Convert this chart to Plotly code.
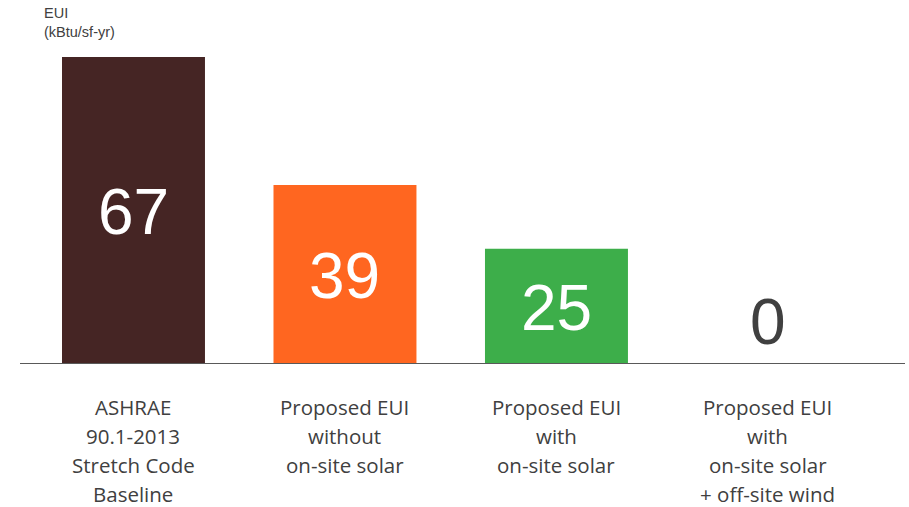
import plotly.graph_objects as go

categories = [
    "ASHRAE<br>90.1-2013<br>Stretch Code<br>Baseline",
    "Proposed EUI<br>without<br>on-site solar",
    "Proposed EUI<br>with<br>on-site solar",
    "Proposed EUI<br>with<br>on-site solar<br>+ off-site wind",
]
values = [67, 39, 25, 0]
colors = ["#452524", "#FF6620", "#3DAE4A", "#FFFFFF"]
label_colors = ["#FFFFFF", "#FFFFFF", "#FFFFFF", "#404040"]
x_idx = list(range(len(categories)))

VAL_FONT = "Liberation Sans, Arial, sans-serif"
CAT_FONT = "Open Sans, Noto Sans, sans-serif"

fig = go.Figure()
fig.add_trace(go.Bar(
    x=x_idx, y=values,
    marker=dict(color=colors, line=dict(width=0)),
    width=0.676,
    cliponaxis=False,
    hoverinfo="skip",
))

annotations = []
# value labels
for xi, v, c in zip(x_idx, values, label_colors):
    if v > 0:
        annotations.append(dict(x=xi, y=v / 2, xref="x", yref="y", text=str(v),
                                showarrow=False, yshift=-2,
                                font=dict(family=VAL_FONT, size=64, color=c)))
    else:
        annotations.append(dict(x=xi, y=0, xref="x", yref="y", text=str(v),
                                showarrow=False, yanchor="middle", yshift=41,
                                font=dict(family=VAL_FONT, size=64, color=c)))
# category labels (one annotation per line for exact line spacing)
for xi, cat in zip(x_idx, categories):
    for li, line in enumerate(cat.split("<br>")):
        annotations.append(dict(x=xi, y=0, xref="x", yref="paper", text=line,
                                showarrow=False, yanchor="middle",
                                yshift=-(44 + 29 * li),
                                font=dict(family=CAT_FONT, size=20.5, color="#404040")))
annotations.append(dict(
    xref="paper", yref="paper", x=0.025, y=1.05, xanchor="left", yanchor="top",
    text="EUI<br>(kBtu/sf-yr)", showarrow=False, align="left",
    font=dict(family="Liberation Sans, Arial, sans-serif", size=14.5, color="#404040"),
))

fig.update_layout(
    width=909, height=507,
    margin=dict(l=20, r=4, t=20, b=144),
    paper_bgcolor="white", plot_bgcolor="white",
    showlegend=False,
    xaxis=dict(
        range=[-0.5366, 3.648],
        showticklabels=False, automargin=False,
        showline=True, linecolor="#595959", linewidth=1,
        showgrid=False, zeroline=False, ticks="",
    ),
    yaxis=dict(range=[0, 75.1], visible=False, showgrid=False, zeroline=False,
               automargin=False),
    annotations=annotations,
)

fig.write_html("out.html")
